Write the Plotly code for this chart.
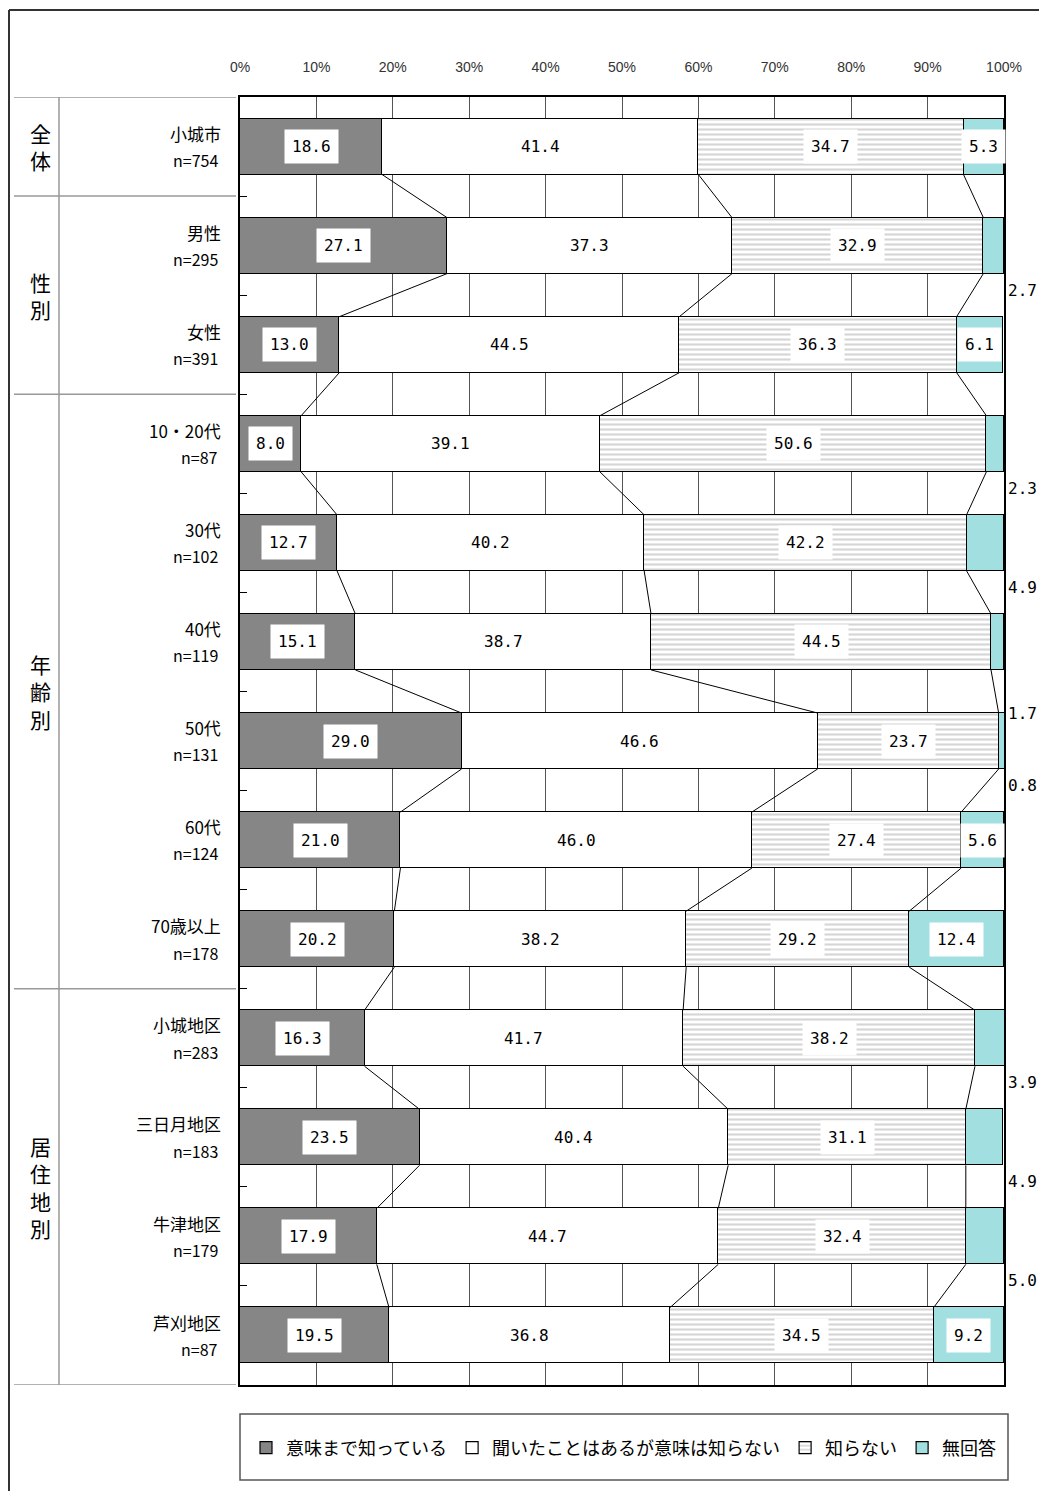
import plotly.graph_objects as go

# ---------------- data ----------------
categories = ["小城市", "男性", "女性", "10・20代", "30代", "40代", "50代", "60代",
              "70歳以上", "小城地区", "三日月地区", "牛津地区", "芦刈地区"]
n_values = [754, 295, 391, 87, 102, 119, 131, 124, 178, 283, 183, 179, 87]
series_names = ["意味まで知っている", "聞いたことはあるが意味は知らない", "知らない", "無回答"]
know_meaning = [18.6, 27.1, 13.0, 8.0, 12.7, 15.1, 29.0, 21.0, 20.2, 16.3, 23.5, 17.9, 19.5]
heard_only = [41.4, 37.3, 44.5, 39.1, 40.2, 38.7, 46.6, 46.0, 38.2, 41.7, 40.4, 44.7, 36.8]
dont_know = [34.7, 32.9, 36.3, 50.6, 42.2, 44.5, 23.7, 27.4, 29.2, 38.2, 31.1, 32.4, 34.5]
no_answer = [5.3, 2.7, 6.1, 2.3, 4.9, 1.7, 0.8, 5.6, 12.4, 3.9, 4.9, 5.0, 9.2]
groups = ["全体", "性別", "年齢別", "居住地別"]
group_sizes = [1, 2, 6, 4]
x_ticks = [0, 10, 20, 30, 40, 50, 60, 70, 80, 90, 100]

series = [know_meaning, heard_only, dont_know, no_answer]

# ---------------- styles / layout geometry ----------------
OFF = 8                      # page body margin
FIG_W, FIG_H = 1047 - OFF, 1499 - 2 * OFF
M_L, M_T = 240 - OFF, 97 - OFF
M_R = FIG_W - (1004 - OFF)
M_B = FIG_H - (1385 - OFF)
PW = FIG_W - M_L - M_R
PH = FIG_H - M_T - M_B
BAR_W = 0.565
JP = "Noto Sans CJK JP"
NUM = "DejaVu Sans Mono"


def px_x(px):
    """page pixel x -> paper coordinate"""
    return (px - OFF - M_L) / PW


def px_y(py):
    """page pixel y -> paper coordinate"""
    return (FIG_H - M_B - (py - OFF)) / PH


ypos = list(range(len(categories)))
fig = go.Figure()

styles = [
    dict(color="#868686", line=dict(color="#000000", width=1.2)),
    dict(color="#ffffff", line=dict(color="#000000", width=1.2)),
    dict(color="#ffffff", line=dict(color="#000000", width=1.2),
         pattern=dict(shape="-", fgcolor="#ababab", bgcolor="#ffffff", size=5, solidity=0.42)),
    dict(color="#a2dfe0", line=dict(color="#000000", width=1.2)),
]

for name, vals, st in zip(series_names, series, styles):
    fig.add_trace(go.Bar(
        y=ypos, x=vals, name=name, orientation="h", width=BAR_W,
        marker=st, hoverinfo="x+name",
    ))

# connector lines between consecutive bars
cums = []
for i in range(len(categories)):
    c, acc = [], 0.0
    for s in series[:3]:
        acc += s[i]
        c.append(acc)
    cums.append(c)

for k in range(3):
    xs, ys = [], []
    for i in range(len(categories) - 1):
        xs += [cums[i][k], cums[i + 1][k], None]
        ys += [i + BAR_W / 2, i + 1 - BAR_W / 2, None]
    fig.add_trace(go.Scatter(x=xs, y=ys, mode="lines", line=dict(color="#000000", width=1),
                             showlegend=False, hoverinfo="skip"))

# value labels
annotations = []
for i in range(len(categories)):
    start = 0.0
    for k, s in enumerate(series):
        v = s[i]
        center = start + v / 2
        start += v
        label = f"{v:.1f}"
        if k < 3 or v > 5.0:
            annotations.append(dict(
                x=center, y=i, xref="x", yref="y", text=label, showarrow=False,
                xanchor="center", yanchor="middle",
                font=dict(family=NUM, size=16, color="#000000"),
                bgcolor="#ffffff", borderpad=7,
            ))
        else:
            off = 0.72 if categories[i] == "40代" else 0.45
            annotations.append(dict(
                x=px_x(1022), y=i + off, xref="paper", yref="y", text=label, showarrow=False,
                xanchor="center", yanchor="middle",
                font=dict(family=NUM, size=16, color="#000000"),
            ))

# category labels (name + n)
for i, (c, n) in enumerate(zip(categories, n_values)):
    annotations.append(dict(
        x=px_x(223), y=i - 0.135, xref="paper", yref="y", text=c, showarrow=False,
        xanchor="right", yanchor="middle", font=dict(family=JP, size=17, color="#000000"),
    ))
    annotations.append(dict(
        x=px_x(220), y=i + 0.135, xref="paper", yref="y", text=f"n={n}", showarrow=False,
        xanchor="right", yanchor="middle", font=dict(family=JP, size=16, color="#000000"),
    ))

# group labels (vertical)
shapes = []
start = 0
for g, sz in zip(groups, group_sizes):
    mid = start + (sz - 1) / 2
    annotations.append(dict(
        x=px_x(40), y=mid, xref="paper", yref="y", text="<br>".join(list(g)),
        showarrow=False, xanchor="center", yanchor="middle",
        font=dict(family=JP, size=21, color="#000000"),
    ))
    start += sz

# group separator lines
bounds = [-0.5]
acc = -0.5
for sz in group_sizes:
    acc += sz
    bounds.append(acc)
for b in bounds:
    shapes.append(dict(type="line", xref="paper", yref="y", x0=px_x(14), x1=px_x(236),
                       y0=b, y1=b, line=dict(color="#999999", width=1.5)))
shapes.append(dict(type="line", xref="paper", yref="y", x0=px_x(59), x1=px_x(59),
                   y0=-0.5, y1=len(categories) - 0.5, line=dict(color="#999999", width=1.5)))

# outer frame
shapes.append(dict(type="line", xref="paper", yref="paper", x0=px_x(9), x1=px_x(9),
                   y0=px_y(10), y1=px_y(1510), line=dict(color="#333333", width=2)))
shapes.append(dict(type="line", xref="paper", yref="paper", x0=px_x(9), x1=px_x(1060),
                   y0=px_y(10), y1=px_y(10), line=dict(color="#333333", width=2)))
# legend frame
shapes.append(dict(type="rect", xref="paper", yref="paper", x0=px_x(240), x1=px_x(1008),
                   y0=px_y(1480), y1=px_y(1414), line=dict(color="#555555", width=1.5),
                   fillcolor="rgba(0,0,0,0)"))

fig.update_layout(
    width=FIG_W, height=FIG_H,
    margin=dict(l=M_L, r=M_R, t=M_T, b=M_B),
    barmode="stack", bargap=0,
    paper_bgcolor="#ffffff", plot_bgcolor="#ffffff",
    font=dict(family=JP, size=16, color="#000000"),
    showlegend=True,
    legend=dict(orientation="h", x=px_x(624), xanchor="center", y=px_y(1448), yanchor="middle",
                font=dict(family=JP, size=18, color="#000000"), bgcolor="rgba(0,0,0,0)",
                borderwidth=0, itemwidth=30, traceorder="normal"),
    xaxis=dict(
        side="top", range=[0, 100], tickvals=x_ticks,
        ticktext=[f"{t}%" for t in x_ticks],
        tickfont=dict(family="Liberation Sans Narrow, Liberation Sans", size=14, color="#333333"),
        ticks="", ticklabelstandoff=18,
        showgrid=True, gridcolor="#555555", gridwidth=1,
        showline=True, linecolor="#000000", linewidth=1.5, mirror=True, zeroline=False,
        fixedrange=True,
    ),
    yaxis=dict(
        range=[len(categories) - 0.5, -0.5], tickmode="array", tickvals=ypos,
        showticklabels=False, ticks="",
        minor=dict(tickmode="array", tickvals=[i + 0.5 for i in range(len(categories) - 1)],
                   ticks="inside", ticklen=7, tickcolor="#000000", tickwidth=1, showgrid=False),
        showgrid=False, showline=True, linecolor="#000000", linewidth=1.5, mirror=True,
        zeroline=False, fixedrange=True,
    ),
    annotations=annotations, shapes=shapes,
)

fig.write_html("out.html")
